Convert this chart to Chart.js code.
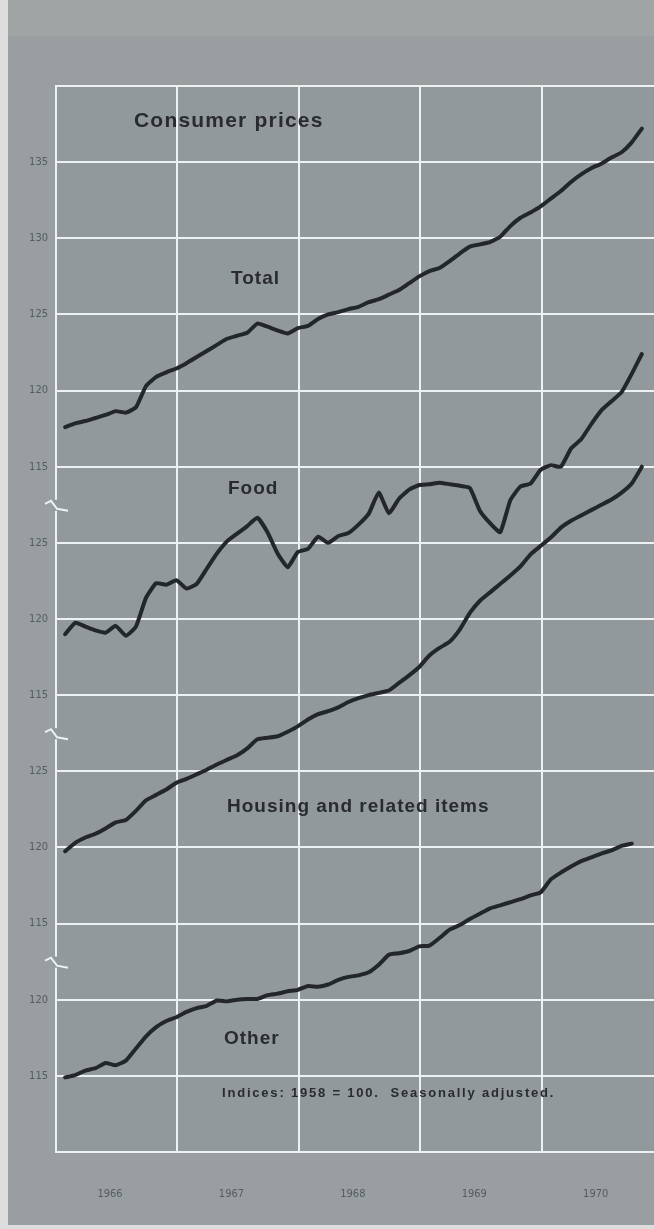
<!DOCTYPE html>
<html>
<head>
<meta charset="utf-8">
<script src="https://cdn.jsdelivr.net/npm/chart.js@4.4.1/dist/chart.umd.min.js"></script>
<style>
  html, body { margin: 0; padding: 0; background: #989da0; }
  #wrap { width: 654px; height: 1229px; }
</style>
</head>
<body>
<div id="wrap"><canvas id="cpiChart" width="654" height="1229"></canvas></div>
<script>
// monthly index values, Jan 1966 onwards
const years = ['1966', '1967', '1968', '1969', '1970'];

const totalValues = [
    117.6, 117.85, 118.0, 118.2, 118.4, 118.65, 118.55, 118.9, 120.3, 120.9, 121.2, 121.45,
    121.8, 122.2, 122.6, 123.0, 123.4, 123.6, 123.8, 124.4, 124.2, 123.95, 123.75, 124.1,
    124.25, 124.7, 125.0, 125.15, 125.35, 125.5, 125.8, 126.0, 126.3, 126.6, 127.05, 127.5,
    127.85, 128.05, 128.5, 129.0, 129.45, 129.6, 129.75, 130.1, 130.8, 131.35, 131.7, 132.1,
    132.6, 133.1, 133.7, 134.2, 134.6, 134.9, 135.3, 135.65, 136.3, 137.2
];
const foodValues = [
    119.0, 119.75, 119.5, 119.25, 119.1, 119.55, 118.9, 119.5, 121.4, 122.35, 122.25, 122.55,
    122.0, 122.3, 123.3, 124.3, 125.1, 125.6, 126.1, 126.65, 125.7, 124.3, 123.4, 124.4,
    124.6, 125.4, 125.0, 125.45, 125.65, 126.2, 126.9, 128.3, 126.95, 127.9, 128.5, 128.8,
    128.85, 128.95, 128.85, 128.75, 128.6, 127.1, 126.3, 125.7, 127.8, 128.7, 128.9, 129.8,
    130.1, 130.0, 131.2, 131.8, 132.8, 133.7, 134.3, 134.9, 136.1, 137.4
];
const housingValues = [
    119.75, 120.3, 120.65, 120.9, 121.25, 121.65, 121.8, 122.4, 123.1, 123.45, 123.8, 124.25,
    124.5, 124.8, 125.1, 125.45, 125.75, 126.05, 126.5, 127.1, 127.2, 127.3, 127.6, 127.95,
    128.4, 128.75, 128.95, 129.2, 129.55, 129.8, 130.0, 130.15, 130.3, 130.8, 131.3, 131.85,
    132.6, 133.1, 133.5, 134.3, 135.4, 136.2, 136.75, 137.3, 137.85, 138.45, 139.25, 139.8,
    140.35, 141.0, 141.45, 141.8, 142.15, 142.5, 142.85, 143.3, 143.9, 145.0
];
const otherValues = [
    114.9, 115.05, 115.35, 115.5, 115.85, 115.7, 116.0, 116.8, 117.6, 118.2, 118.6, 118.85,
    119.2, 119.45, 119.6, 119.95, 119.9, 120.0, 120.05, 120.05, 120.3, 120.4, 120.55, 120.65,
    120.9, 120.85, 121.0, 121.3, 121.5, 121.6, 121.8, 122.3, 122.95, 123.05, 123.2, 123.5,
    123.55, 124.05, 124.6, 124.9, 125.3, 125.65, 126.0, 126.2, 126.4, 126.6, 126.85, 127.05,
    127.9, 128.35, 128.75, 129.1, 129.35, 129.6, 129.8, 130.1, 130.25
];

const totalTicks = [115, 120, 125, 130, 135];
const foodTicks = [115, 120, 125];
const housingTicks = [115, 120, 125];
const otherTicks = [115, 120];

const gridColor = '#eef1f1';
const lineColor = '#232729';
const tickColor = '#555c5f';
const textColor = '#292b2c';
const narrowFont = "'Liberation Sans Narrow', 'DejaVu Sans Condensed', sans-serif";

// points sit near the end of each month
const toPoints = values => values.map((v, i) => ({ x: i + 0.9, y: v }));

function seriesDataset(label, values, axisId) {
    return {
        label: label,
        data: toPoints(values),
        yAxisID: axisId,
        xAxisID: 'x',
        borderColor: lineColor,
        borderWidth: 4,
        borderJoinStyle: 'round',
        borderCapStyle: 'round',
        pointRadius: 0,
        tension: 0.15,
        clip: false
    };
}

function panelAxis(min, max, tickList, order) {
    return {
        type: 'linear',
        position: 'left',
        stack: 'cpi',
        stackWeight: max - min,
        weight: order,
        min: min,
        max: max,
        afterBuildTicks: scale => { scale.ticks = tickList.map(v => ({ value: v })); },
        afterFit: scale => { scale.width = 56; },
        grid: { color: gridColor, lineWidth: 2, drawTicks: false },
        border: { color: gridColor, width: 2 },
        ticks: {
            color: tickColor,
            padding: 8,
            font: { family: narrowFont, size: 11 }
        }
    };
}

const paperPlugin = {
    id: 'paper',
    beforeDraw(chart) {
        const ctx = chart.ctx;
        const area = chart.chartArea;
        ctx.save();
        ctx.fillStyle = '#999ea0';
        ctx.fillRect(0, 0, chart.width, chart.height);
        ctx.fillStyle = '#9fa4a5';
        ctx.fillRect(0, 0, chart.width, 36);
        ctx.fillStyle = '#dcdddc';
        ctx.fillRect(0, 0, 8, chart.height);
        ctx.fillRect(0, chart.height - 4, chart.width, 4);
        ctx.fillStyle = '#92999c';
        ctx.fillRect(area.left, area.top, area.right - area.left, area.bottom - area.top);
        ctx.restore();
    },
    afterDraw(chart) {
        const ctx = chart.ctx;
        const area = chart.chartArea;
        ctx.save();

        // top edge of the frame
        ctx.strokeStyle = gridColor;
        ctx.lineWidth = 2;
        ctx.beginPath();
        ctx.moveTo(area.left - 1, area.top);
        ctx.lineTo(area.right, area.top);
        ctx.stroke();

        // axis breaks between panels
        ['yFood', 'yHousing', 'yOther'].forEach(id => {
            const b = chart.scales[id].top;
            const x = area.left;
            ctx.fillStyle = '#92999c';
            ctx.fillRect(x - 3, b - 5, 6, 11);
            ctx.strokeStyle = gridColor;
            ctx.lineWidth = 2;
            ctx.beginPath();
            ctx.moveTo(x - 11, b - 1);
            ctx.lineTo(x - 5, b - 4);
            ctx.lineTo(x + 1, b + 4);
            ctx.lineTo(x + 12, b + 6);
            ctx.stroke();
        });

        ctx.fillStyle = textColor;
        ctx.textBaseline = 'alphabetic';
        ctx.textAlign = 'left';

        ctx.font = "bold 21px 'Liberation Sans', Arial, sans-serif";
        ctx.letterSpacing = '1.2px';
        ctx.fillText('Consumer prices', 134, 127);

        ctx.font = "bold 19px 'Liberation Sans', Arial, sans-serif";
        ctx.letterSpacing = '1px';
        ctx.fillText('Total', 231, 284);
        ctx.fillText('Food', 228, 494);
        ctx.fillText('Housing and related items', 227, 812);
        ctx.fillText('Other', 224, 1044);

        ctx.font = "bold 13px 'Liberation Sans', Arial, sans-serif";
        ctx.letterSpacing = '1.8px';
        ctx.fillText('Indices: 1958 = 100.  Seasonally adjusted.', 222, 1097);
        ctx.letterSpacing = '0px';
        ctx.restore();
    }
};

document.addEventListener('DOMContentLoaded', () => {
    const ctx = document.getElementById('cpiChart').getContext('2d');
    new Chart(ctx, {
        type: 'line',
        data: {
            datasets: [
                seriesDataset('Total', totalValues, 'yTotal'),
                seriesDataset('Food', foodValues, 'yFood'),
                seriesDataset('Housing and related items', housingValues, 'yHousing'),
                seriesDataset('Other', otherValues, 'yOther')
            ]
        },
        options: {
            responsive: false,
            animation: false,
            layout: { padding: { top: 86, left: 0, right: 0, bottom: 0 } },
            plugins: {
                legend: { display: false },
                tooltip: { enabled: false }
            },
            scales: {
                x: {
                    type: 'linear',
                    min: 0,
                    max: 59.1,
                    afterBuildTicks: scale => { scale.ticks = years.map((y, i) => ({ value: i * 12 })); },
                    afterFit: scale => { scale.height = 77; },
                    grid: { color: gridColor, lineWidth: 2, drawTicks: false },
                    border: { color: gridColor, width: 2 },
                    ticks: {
                        callback: (value, index) => years[index],
                        labelOffset: 54,
                        padding: 36,
                        maxRotation: 0,
                        autoSkip: false,
                        color: tickColor,
                        font: { family: narrowFont, size: 11 }
                    }
                },
                yTotal: panelAxis(112.5, 140, totalTicks, 4),
                yFood: panelAxis(112.5, 127.5, foodTicks, 3),
                yHousing: panelAxis(112.5, 127.5, housingTicks, 2),
                yOther: panelAxis(110, 122.5, otherTicks, 1)
            }
        },
        plugins: [paperPlugin]
    });
});
</script>
</body>
</html>
